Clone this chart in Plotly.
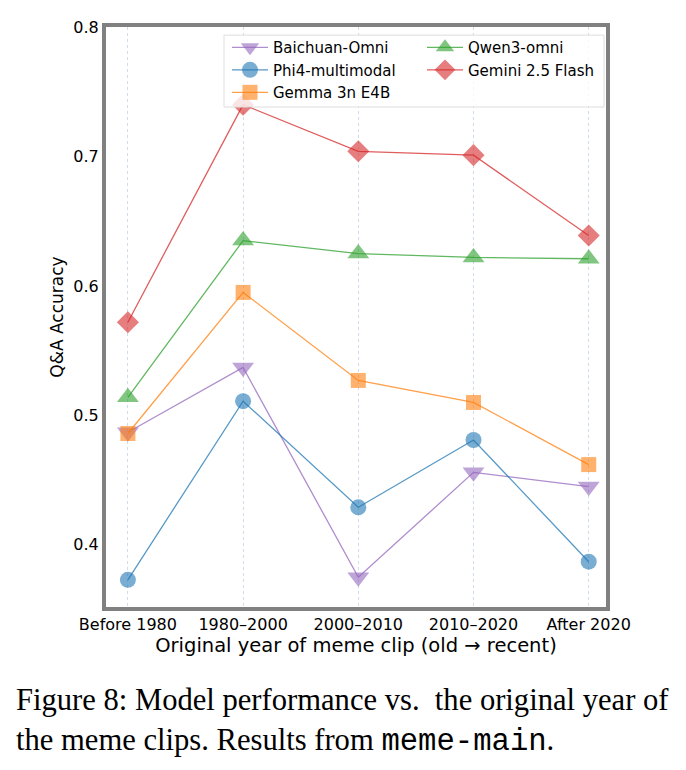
import plotly.graph_objects as go

categories = ["Before 1980", "1980–2000", "2000–2010", "2010–2020", "After 2020"]
baichuan = [0.487, 0.537, 0.375, 0.456, 0.445]
phi4 = [0.373, 0.511, 0.429, 0.481, 0.387]
gemma = [0.486, 0.595, 0.527, 0.510, 0.462]
qwen3 = [0.514, 0.635, 0.625, 0.622, 0.621]
gemini = [0.572, 0.740, 0.704, 0.701, 0.639]
y_ticks = [0.4, 0.5, 0.6, 0.7, 0.8]

series = [
    ("Baichuan-Omni", baichuan, (148, 103, 189), "triangle-down", 19, "legend"),
    ("Phi4-multimodal", phi4, (31, 119, 180), "circle", 16, "legend"),
    ("Gemma 3n E4B", gemma, (255, 127, 14), "square", 15, "legend"),
    ("Qwen3-omni", qwen3, (44, 160, 44), "triangle-up", 19, "legend2"),
    ("Gemini 2.5 Flash", gemini, (214, 39, 40), "diamond", 17, "legend2"),
]

fig = go.Figure()
for name, vals, rgb, sym, msize, leg in series:
    r, g, b = rgb
    fig.add_trace(go.Scatter(
        x=list(range(len(categories))), y=vals, name=name, mode="lines+markers",
        line=dict(color=f"rgba({r},{g},{b},0.75)", width=1.3),
        marker=dict(symbol=sym, size=msize, color=f"rgba({r},{g},{b},0.6)",
                    line=dict(width=0)),
        legend=leg,
    ))

legend_common = dict(
    orientation="v", yanchor="top", xanchor="left", y=0.993,
    bgcolor="rgba(0,0,0,0)", borderwidth=0,
    font=dict(size=15, family="DejaVu Sans"), itemwidth=36,
    tracegroupgap=0, traceorder="normal",
)

frame = dict(showline=True, linecolor="#808080", linewidth=4, mirror=True)
fig.update_layout(
    width=686, height=770,
    margin=dict(l=106, r=80, t=27, b=163),
    paper_bgcolor="white", plot_bgcolor="white",
    font=dict(family="DejaVu Sans", color="black"),
    showlegend=True,
    legend=dict(x=0.242, **legend_common),
    legend2=dict(x=0.632, **legend_common),
    xaxis=dict(
        range=[-0.19, 4.15], tickmode="array",
        tickvals=list(range(len(categories))), ticktext=categories,
        tickfont=dict(size=16), showgrid=True, gridcolor="rgba(176,196,222,0.6)",
        griddash="dot", gridwidth=1, zeroline=False, ticks="", ticklen=0,
        title=dict(text="Original year of meme clip (old → recent)",
                   font=dict(size=19.5), standoff=0),
        **frame,
    ),
    yaxis=dict(
        range=[0.352, 0.8], tickmode="array", tickvals=y_ticks,
        ticktext=[f"{v:.1f}" for v in y_ticks], tickfont=dict(size=16),
        showgrid=False, zeroline=False, ticks="", ticklen=0,
        title=dict(text="Q&A Accuracy", font=dict(size=17), standoff=6),
        **frame,
    ),
    shapes=[dict(
        type="rect", xref="paper", yref="paper", layer="above",
        x0=0.236, x1=0.996, y0=0.862, y1=0.986,
        fillcolor="rgba(255,255,255,0.8)", line=dict(color="#dddddd", width=1),
    )],
)

fig.add_annotation(
    xref="paper", yref="paper", x=-0.184, y=-0.128, xanchor="left", yanchor="top",
    align="left", showarrow=False,
    text=("Figure 8: Model performance vs.  the original year of<br>"
          "the meme clips. Results from "
          "<span style=\"font-family:'Liberation Mono'\">meme-main</span>."),
    font=dict(family="Liberation Serif", size=30.6, color="black"),
)

fig.write_html("out.html")
